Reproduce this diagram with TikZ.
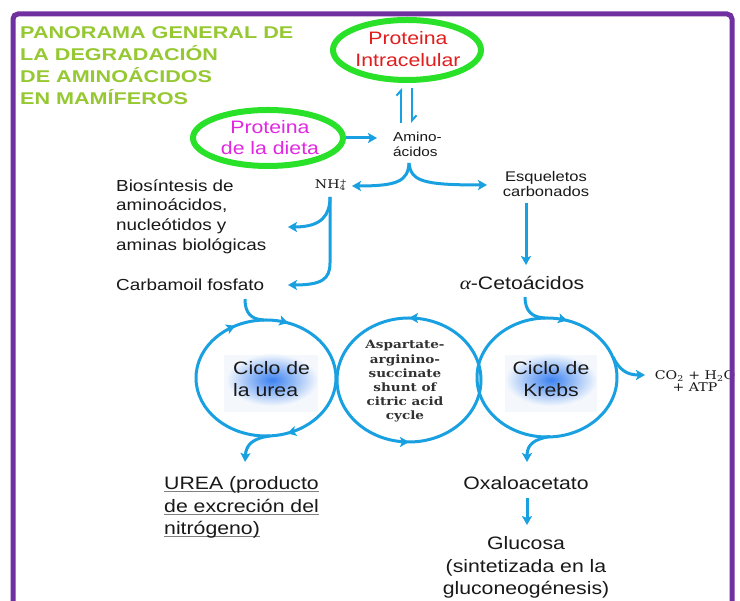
\documentclass[tikz,border=0pt]{standalone}
\usepackage{fontspec}
\setmainfont{Liberation Sans}[FakeStretch=1.18]
\newfontfamily\titlefont{Liberation Sans}[FakeStretch=1.27]
\newfontfamily\serifx{DejaVu Serif}[FakeStretch=1.18]
\newfontfamily\alphafont{Liberation Serif}[FakeStretch=1.18]
\usetikzlibrary{arrows.meta,shapes.geometric,decorations.markings}
\definecolor{framepurple}{RGB}{112,48,160}
\definecolor{titlegreen}{RGB}{150,200,50}
\definecolor{ellgreen}{RGB}{40,225,40}
\definecolor{protred}{RGB}{225,30,30}
\definecolor{protmag}{RGB}{225,40,225}
\definecolor{flowblue}{RGB}{25,160,225}
\definecolor{glowblue}{RGB}{60,130,240}
\definecolor{glowpale}{RGB}{244,248,253}
\definecolor{txt}{RGB}{25,25,25}
\definecolor{serifgray}{RGB}{50,50,50}
\newcommand\ulx[1]{\setbox0\hbox{#1}\rlap{\color{gray}\rule[-2.5pt]{\wd0}{1.1pt}}\box0}
\newcommand\subsup[2]{{\fontsize{7.5}{7.5}\selectfont\ooalign{\raisebox{3.5pt}{#2}\cr\raisebox{-2.5pt}{#1}\cr}}}
\tikzset{
  tipx/.tip={Stealth[length=9pt,width=10pt,inset=2pt]},
  flow/.style={color=flowblue, line width=3pt, -tipx},
  cyc/.style={color=flowblue, line width=3pt},
  harp/.style={color=flowblue, line width=2pt, -{Straight Barb[left,length=5pt,width=9pt]}},
  greenell/.style={ellipse, draw=ellgreen, line width=6pt, inner sep=0pt},
  lab13/.style={font=\fontsize{13}{15}\selectfont, text=txt, inner sep=1pt},
  lab14/.style={font=\fontsize{14}{15}\selectfont, text=txt, inner sep=1pt},
  lab16/.style={font=\fontsize{16}{19.7}\selectfont, text=txt, inner sep=1pt},
  lab18/.style={font=\fontsize{18}{22.5}\selectfont, text=txt, inner sep=1pt},
  serif12/.style={font=\serifx\fontsize{12}{12}\selectfont, text=txt, inner sep=1pt},
  serifbold/.style={font=\serifx\bfseries\fontsize{11.5}{14.2}\selectfont, text=serifgray, inner sep=1pt},
  titlestyle/.style={font=\titlefont\bfseries\fontsize{17}{22}\selectfont, text=titlegreen, inner sep=0pt},
  ucycle/.style={cyc, postaction={decorate}, decoration={markings,
      mark=at position 0.194 with {\arrowreversed{tipx}},
      mark=at position 0.328 with {\arrowreversed{tipx}},
      mark=at position 0.803 with {\arrowreversed{tipx}}}},
  mcycle/.style={cyc, postaction={decorate}, decoration={markings,
      mark=at position 0.25 with {\arrow{tipx}},
      mark=at position 0.75 with {\arrow{tipx}}}},
  kcycle/.style={cyc, postaction={decorate}, decoration={markings,
      mark=at position 0.2 with {\arrowreversed{tipx}}}},
}
\begin{document}
\begin{tikzpicture}[x=1pt,y=1pt]
\useasboundingbox (0,0) rectangle (740,601);
\fill[white] (0,0) rectangle (740,601);

% title
\node[titlestyle, anchor=west, align=left] (title) at (20,535)
  {PANORAMA GENERAL DE\\LA DEGRADACIÓN\\DE AMINOÁCIDOS\\EN MAMÍFEROS};

% protein sources
\node[lab13, anchor=west, align=left] (ami) at (392,456.5) {Amino-\\ácidos};
\node[greenell, minimum width=148pt, minimum height=60pt] (pie) at (407,551) {};
\node[lab18, text=protred, align=center] (pit) at (408,552) {Proteina\\Intracelular};
\node[greenell, minimum width=150pt, minimum height=56pt] (die) at (268,463) {};
\node[lab18, text=protmag, align=center, font=\fontsize{18}{21}\selectfont] (dit) at (270,463.5) {Proteina\\de la dieta};

\draw[harp] ([shift={(-6,-40)}]pie.south) -- ([shift={(-6,-5)}]pie.south);
\draw[harp] ([shift={(5,-5)}]pie.south) -- ([shift={(5,-40)}]pie.south);
\coordinate (dieend) at (377,463);
\draw[flow] (die.east) -- (dieend);

% fork
\node[serif12] (nh) at (331,416) {NH\subsup{4}{+}};
\node[lab14, align=center] (esq) at (546,416.5) {Esqueletos\\carbonados};
\coordinate (fork) at (409,438);
\coordinate (nhin) at (352,415);
\coordinate (esqin) at (487,416);
\draw[flow] (fork) .. controls (408,420) and (398,415) .. (nhin);
\draw[flow] (fork) .. controls (411,420) and (422,416) .. (esqin);

% NH4 branches
\node[lab16, anchor=west, align=left] (bio) at (115,384.5)
  {Biosíntesis de\\aminoácidos,\\nucleótidos y\\aminas biológicas};
\node[lab16, anchor=west] (car) at (115,316) {Carbamoil fosfato};
\coordinate (nhb) at (330,404);
\coordinate (bioin) at (288,374);
\coordinate (carin) at (288,316);
\draw[flow] (nhb) .. controls (330,386) and (322,374) .. (bioin);
\draw[flow] (nhb) -- (330,338) .. controls (330,322) and (322,316) .. (carin);

% carbon skeletons
\node[lab18] (ceto) at (522,318) {{\alphafont\itshape α}-Cetoácidos};
\coordinate (esqout) at (526,398);
\coordinate (cetoin) at (526,336);
\draw[flow] (esqout) -- (cetoin);

% cycles: glow
\fill[glowpale] (224,189) rectangle (318,246);
\fill[glowpale] (505,189) rectangle (597,246);
\shade[inner color=glowblue, outer color=glowpale] (272,221) ellipse [x radius=46, y radius=26];
\shade[inner color=glowblue, outer color=glowpale] (551,221) ellipse [x radius=46, y radius=26];

\coordinate (uc) at (266,223);
\coordinate (mc) at (409,221);
\coordinate (kc) at (547,223.5);
\draw[ucycle] (uc) ellipse [x radius=70, y radius=58];
\draw[mcycle] (mc) ellipse [x radius=72, y radius=62];
\draw[kcycle] (kc) ellipse [x radius=70, y radius=59.5];

\node[lab18, anchor=west, align=left] (uct) at (232,222) {Ciclo de\\la urea};
\node[serifbold, align=center] (mct) at (405,219.5)
  {Aspartate-\\arginino-\\succinate\\shunt of\\citric acid\\cycle};
\node[lab18, align=center] (kct) at (551,222) {Ciclo de\\Krebs};

% into / out of cycles
\coordinate (carout) at (245,302);
\coordinate (utop) at (264,281);
\draw[cyc] (carout) .. controls (245,288) and (251,281.5) .. (utop);
\coordinate (ubot) at (270,165);
\coordinate (uout) at (245,139);
\draw[flow] (ubot) .. controls (254,163) and (246,157) .. (uout);

\coordinate (cetoout) at (525,304);
\coordinate (ktop) at (545,283);
\draw[cyc] (cetoout) .. controls (525,290) and (532,283.5) .. (ktop);
\coordinate (kright) at (613,244);
\coordinate (co2in) at (645,226);
\draw[flow] (kright) .. controls (619,232) and (626,226) .. (co2in);
\coordinate (kbot) at (550,164.5);
\coordinate (kout) at (527,139);
\draw[flow] (kbot) .. controls (535,162) and (527,157) .. (kout);

\node[serif12, align=center] (co2) at (695,220) {CO\textsubscript{2} + H\textsubscript{2}O\\+ ATP};

% products
\node[lab18, anchor=west, align=left] (ure) at (163,93.5)
  {\ulx{UREA (producto}\\\ulx{de excreción del}\\\ulx{nitrógeno)}};
\node[lab18] (oxa) at (526,118) {Oxaloacetato};
\node[lab18, align=center] (glu) at (526,33.5) {Glucosa\\(sintetizada en la\\gluconeogénesis)};
\coordinate (oxaout) at (527,103);
\coordinate (gluin) at (527,76);
\draw[flow] (oxaout) -- (gluin);

% frame
\draw[framepurple, line width=5pt, rounded corners=5pt] (13,-10) -- (13,587) -- (732,587) -- (732,-10);
\end{tikzpicture}
\end{document}
